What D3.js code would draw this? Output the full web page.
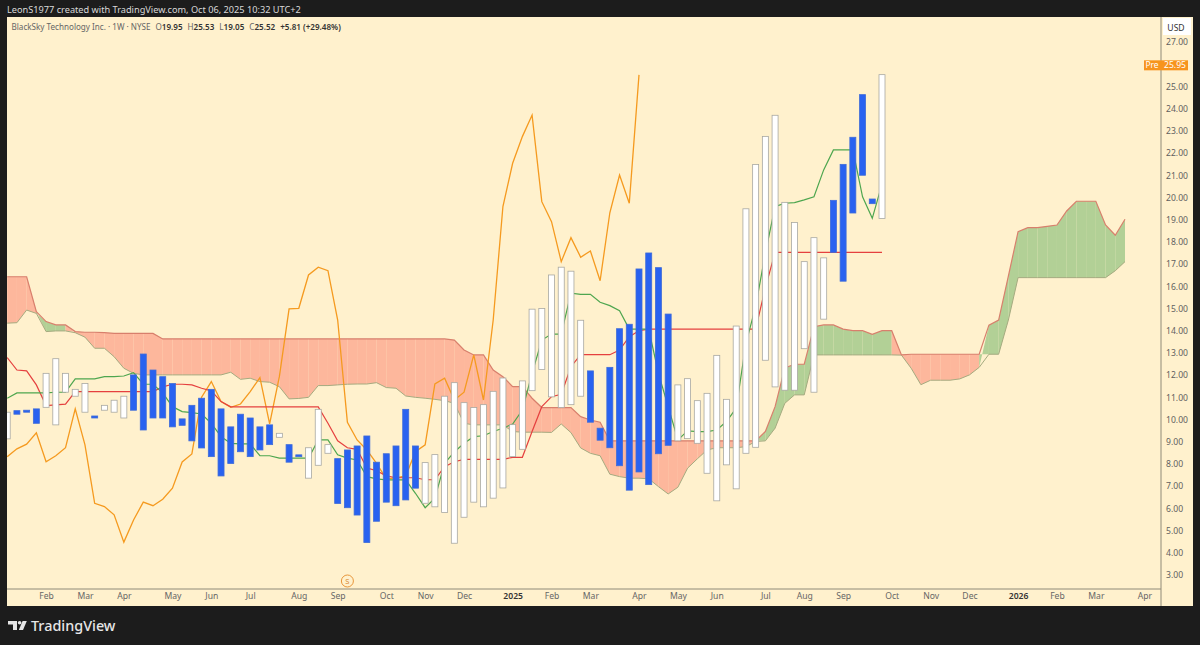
<!DOCTYPE html>
<html>
<head>
<meta charset="utf-8">
<script src="https://cdnjs.cloudflare.com/ajax/libs/d3/7.9.0/d3.min.js"></script>
<style>
  html, body { margin: 0; padding: 0; background: #1c1c1c; overflow: hidden; }
  text { font-family: "Noto Sans", sans-serif; }
</style>
</head>
<body>
<svg id="chart" width="1200" height="645"></svg>
<script>
// weekly bars, low/high only (the chart shows no wicks)
const barHigh = [10.33,10.40,10.42,10.48,12.08,12.74,12.08,11.36,11.62,10.16,10.64,10.87,11.05,12.01,12.95,12.23,11.93,11.62,10.03,10.64,10.96,11.36,10.48,9.67,10.24,10.07,9.67,9.76,9.38,8.87,8.41,8.73,10.46,8.87,8.24,8.63,8.81,9.26,8.08,8.46,8.81,10.46,8.81,8.06,8.42,11.05,11.66,10.76,10.54,10.67,11.27,11.87,9.77,11.74,14.97,15.00,16.51,16.86,16.68,14.47,12.19,9.61,12.35,14.09,14.29,16.78,17.50,16.84,14.75,11.56,11.84,10.85,11.18,12.89,10.91,14.21,19.49,21.48,22.75,23.70,19.78,18.87,17.11,18.19,17.28,19.87,21.49,22.71,24.63,19.93,25.53];
const barLow = [9.13,10.24,10.33,9.83,10.55,9.76,11.23,11.05,10.33,10.07,10.42,10.33,10.07,10.42,9.53,10.07,10.07,9.67,9.74,9.04,8.72,8.33,7.46,8.02,8.55,8.33,8.63,8.87,9.20,8.08,8.33,7.36,7.94,8.48,6.22,6.03,5.70,4.46,5.42,6.28,6.12,6.38,6.91,6.23,6.07,5.81,4.43,5.60,6.28,6.07,6.46,6.92,8.33,8.66,11.30,12.25,11.02,10.54,10.67,11.05,9.88,9.07,8.73,7.92,6.82,7.64,7.07,8.46,8.84,9.04,9.14,8.93,7.58,6.34,7.96,6.88,8.48,8.75,12.67,11.47,11.32,11.32,13.19,11.23,14.52,17.53,16.23,19.30,21.00,19.72,19.05];
// 0 = blue (down), 1 = white (up)
const barUp = [1,0,0,0,1,1,1,1,1,0,1,1,1,0,0,0,0,0,0,0,0,0,0,0,0,0,0,0,1,0,0,1,1,1,0,0,0,0,0,0,0,0,0,1,1,1,1,1,1,1,1,1,1,1,1,1,1,1,1,1,0,0,0,0,0,0,0,0,0,1,1,1,1,1,1,1,1,1,1,1,1,1,1,1,1,0,0,0,0,0,1];

const tenkan = [10.96,11.20,11.20,11.20,11.20,11.23,11.23,11.83,11.83,11.83,11.93,11.93,11.96,12.11,11.59,11.59,11.20,10.58,10.36,10.31,10.25,9.83,9.23,8.93,8.90,8.90,8.37,8.37,8.26,8.26,8.26,8.26,9.08,9.08,8.41,8.26,8.18,7.43,7.33,7.28,7.28,7.28,6.68,6.03,6.46,8.03,8.54,8.93,9.23,9.27,9.46,9.61,9.80,10.43,12.08,13.58,13.85,13.85,15.69,15.64,15.64,15.28,15.13,14.90,14.07,14.07,14.07,12.08,10.58,9.08,9.49,9.46,9.46,9.53,9.91,10.51,13.43,15.08,17.49,19.59,19.74,19.77,19.89,20.03,21.24,22.14,22.14,22.14,20.03,19.06,20.60];
const kijun = [12.79,12.23,12.19,11.56,10.63,10.66,10.69,11.26,11.26,11.26,11.26,11.26,11.26,11.26,11.26,11.26,11.47,11.59,11.59,11.56,11.41,11.29,10.81,10.57,10.57,10.57,10.57,10.57,10.57,10.57,10.57,10.57,10.57,9.83,9.04,8.73,8.66,7.82,7.70,7.46,7.38,7.38,7.38,7.29,7.29,7.88,8.10,8.21,8.21,8.21,8.21,8.21,8.30,8.30,9.46,10.58,11.03,11.14,12.38,12.92,12.92,12.92,12.92,13.13,13.73,14.00,14.07,14.07,14.07,14.07,14.07,14.07,14.07,14.07,14.07,14.07,14.07,14.07,15.93,17.53,17.53,17.53,17.53,17.53,17.53,17.53,17.53,17.53,17.53,17.53,17.53];
// lagging span, starts at the first bar and stops 25 bars before the last one
const chikou = [8.33,8.68,8.89,9.40,8.10,8.37,8.73,10.48,8.86,6.23,6.08,5.71,4.48,5.48,6.28,6.12,6.41,6.91,8.09,8.45,11.01,11.71,10.81,10.55,10.70,11.26,11.89,9.80,11.93,14.98,15.01,16.51,16.86,16.70,14.48,9.88,9.08,8.63,8.03,7.33,7.37,7.46,8.55,8.86,11.60,11.86,10.88,11.23,12.91,10.88,14.48,19.59,21.54,22.74,23.71,19.81,18.91,17.11,18.19,17.31,17.59,16.25,19.31,21.01,19.74,25.52];
// leading spans run 25 bars past the last bar
const spanA = [14.34,14.36,14.93,14.78,14.41,14.26,14.26,13.91,13.71,13.21,13.21,12.83,12.31,12.08,12.01,12.01,12.01,12.01,12.01,12.01,12.01,12.01,12.01,12.13,11.81,11.86,11.71,11.68,11.48,10.93,10.95,11.00,11.53,11.53,11.56,11.59,11.60,11.60,11.66,11.44,11.41,11.06,11.00,10.96,10.91,10.85,10.73,9.83,9.76,9.76,9.76,9.76,9.46,9.43,9.43,9.43,9.42,9.80,9.41,8.72,8.48,8.37,7.54,7.43,7.36,7.36,7.33,6.98,6.65,6.95,7.81,8.23,8.63,8.73,8.73,8.73,8.78,9.01,9.46,10.58,12.32,12.49,12.49,14.18,14.26,14.26,14.07,14.00,14.00,13.84,14.00,14.00,12.90,12.31,11.57,11.77,11.77,11.77,11.83,12.01,12.35,14.25,14.48,16.46,18.46,18.64,18.64,18.70,18.76,19.39,19.83,19.83,19.83,18.76,18.30,19.02];
const spanB = [16.43,16.43,16.43,14.86,13.96,13.99,13.99,13.96,13.93,13.93,13.91,13.88,13.88,13.88,13.88,13.88,13.63,13.63,13.63,13.63,13.63,13.63,13.63,13.63,13.63,13.63,13.63,13.63,13.63,13.63,13.63,13.63,13.63,13.63,13.63,13.63,13.63,13.63,13.63,13.63,13.63,13.63,13.63,13.63,13.63,13.63,13.58,13.13,12.91,12.91,12.23,11.93,11.48,11.48,10.96,10.54,10.54,10.54,10.54,10.13,9.98,9.88,9.04,9.04,9.04,9.04,9.04,9.04,9.04,9.04,9.04,9.04,9.04,9.04,9.04,9.04,9.04,9.04,9.04,9.61,10.73,11.11,11.11,12.91,12.91,12.91,12.91,12.91,12.91,12.91,12.91,12.91,12.91,12.94,12.94,12.94,12.94,12.94,12.94,12.94,12.94,12.94,12.94,14.48,16.39,16.39,16.39,16.39,16.39,16.39,16.39,16.39,16.39,16.39,16.70,17.11];

const priceTicks = [27,25,24,23,22,21,20,19,18,17,16,15,14,13,12,11,10,9,8,7,6,5,4,3];
const timeTickBars = [4,8,12,17,21,25,30,34,39,43,47,52,56,60,65,69,73,78,82,86,91,95,99,104,108,112,117];
const timeTickLabels = ["Feb","Mar","Apr","May","Jun","Jul","Aug","Sep","Oct","Nov","Dec","2025","Feb","Mar","Apr","May","Jun","Jul","Aug","Sep","Oct","Nov","Dec","2026","Feb","Mar","Apr"];

const prePrice = 25.95;
const splitBar = 35, splitPrice = 2.73;

const svg = d3.select("#chart");

const pane = { left: 7, right: 1161, top: 17, bottom: 589 };
const frame = { right: 1193, bottom: 606 };

const x = d3.scaleLinear().domain([0, 90]).range([7.2, 882]);
const y = d3.scaleLinear().domain([27, 3]).range([42, 575]);

const red = "#e5403f", green = "#4ea64f", orange = "#f59a1f";

// paper colour for pane and both axes
svg.append("rect").attr("x", pane.left).attr("y", pane.top)
  .attr("width", frame.right - pane.left).attr("height", frame.bottom - pane.top)
  .attr("fill", "#fff1cd");

svg.append("clipPath").attr("id", "pane-clip").append("rect")
  .attr("x", pane.left).attr("y", pane.top)
  .attr("width", pane.right - pane.left).attr("height", pane.bottom - pane.top);

const g = svg.append("g").attr("clip-path", "url(#pane-clip)");

// cloud: every segment takes the colour of its right hand bar
const cloudIdx = d3.range(spanA.length);
const segArea = d3.area()
  .x(i => x(i))
  .y0(i => y(spanA[i]))
  .y1(i => y(spanB[i]));

g.selectAll(".cloud")
  .data(cloudIdx.slice(1))
  .enter().append("path")
  .attr("class", "cloud")
  .attr("d", i => segArea([i - 1, i]))
  .attr("fill", i => spanA[i] > spanB[i] ? "#b2d096" : "#fdb79c")
  .attr("stroke", "none");

const edge = fn => d3.line().x(i => x(i)).y(i => y(fn(spanA[i], spanB[i])))(cloudIdx);
g.append("path").attr("d", edge(Math.min)).attr("fill", "none")
  .attr("stroke", "#a5ab80").attr("stroke-width", 1);
g.append("path").attr("d", edge(Math.max)).attr("fill", "none")
  .attr("stroke", "#d87f6c").attr("stroke-width", 1.2);

const seriesLine = d3.line().x((d, i) => x(i)).y(d => y(d));
g.append("path").attr("d", seriesLine(chikou)).attr("fill", "none").attr("stroke", orange).attr("stroke-width", 1.3);
g.append("path").attr("d", seriesLine(kijun)).attr("fill", "none").attr("stroke", red).attr("stroke-width", 1.2);
g.append("path").attr("d", seriesLine(tenkan)).attr("fill", "none").attr("stroke", green).attr("stroke-width", 1.2);

const barW = 6;
g.selectAll(".bar")
  .data(barHigh)
  .enter().append("rect")
  .attr("class", "bar")
  .attr("x", (d, i) => x(i) - barW / 2)
  .attr("y", d => y(d))
  .attr("width", barW)
  .attr("height", (d, i) => Math.max(1, y(barLow[i]) - y(d)))
  .attr("fill", (d, i) => barUp[i] ? "#ffffff" : "#2962f0")
  .attr("stroke", (d, i) => barUp[i] ? "#a8a8a2" : "#3f6cd8")
  .attr("stroke-width", 0.8);

// pane borders
svg.append("line").attr("x1", pane.right).attr("x2", pane.right)
  .attr("y1", pane.top).attr("y2", frame.bottom).attr("stroke", "#8f8a78").attr("stroke-width", 1);
svg.append("line").attr("x1", pane.left).attr("x2", pane.right)
  .attr("y1", pane.bottom).attr("y2", pane.bottom).attr("stroke", "#8f8a78").attr("stroke-width", 1);

// split marker
svg.append("circle").attr("cx", x(splitBar)).attr("cy", y(splitPrice)).attr("r", 6)
  .attr("fill", "none").attr("stroke", "#e8963a").attr("stroke-width", 1);
svg.append("text").attr("x", x(splitBar)).attr("y", y(splitPrice) + 2.8)
  .attr("text-anchor", "middle").attr("font-size", 7.5).attr("fill", "#d98a35").text("S");

// price axis
const yAxis = svg.append("g")
  .attr("transform", `translate(${pane.right},0)`)
  .call(d3.axisRight(y).tickValues(priceTicks).tickFormat(d3.format(".2f")).tickSize(0).tickPadding(5));
yAxis.select(".domain").remove();
yAxis.selectAll("text").attr("font-family", "Noto Sans, sans-serif").attr("font-size", 8.6).attr("fill", "#5f5f5f");

// time axis
const xAxis = svg.append("g")
  .attr("transform", `translate(0,${pane.bottom})`)
  .call(d3.axisBottom(x).tickValues(timeTickBars).tickFormat((d, i) => timeTickLabels[i]).tickSize(0).tickPadding(4));
xAxis.select(".domain").remove();
xAxis.selectAll("text")
  .attr("font-family", "Noto Sans, sans-serif")
  .attr("font-size", 8.6)
  .attr("fill", (d, i) => /^20/.test(timeTickLabels[i]) ? "#333" : "#666")
  .attr("font-weight", (d, i) => /^20/.test(timeTickLabels[i]) ? 600 : 400);

// USD box
svg.append("rect").attr("x", 1163).attr("y", 18).attr("width", 28).attr("height", 17).attr("fill", "#ffffff");
svg.append("text").attr("x", 1176).attr("y", 31).attr("text-anchor", "middle")
  .attr("font-size", 8.6).attr("fill", "#333").text("USD");

// pre market tag
const preY = y(prePrice);
svg.append("rect").attr("x", 1144).attr("y", preY - 5).attr("width", 44).attr("height", 10).attr("fill", "#f7941d");
svg.append("text").attr("x", 1152).attr("y", preY + 3).attr("text-anchor", "middle")
  .attr("font-size", 8.4).attr("fill", "#fff").text("Pre");
svg.append("text").attr("x", 1175).attr("y", preY + 3).attr("text-anchor", "middle")
  .attr("font-size", 8.6).attr("fill", "#fff").text("25.95");

// header line
svg.append("text").attr("x", 7).attr("y", 12.5).attr("font-size", 9.2).attr("fill", "#d8d8d8")
  .text("LeonS1977 created with TradingView.com, Oct 06, 2025 10:32 UTC+2");

// legend
const legend = svg.append("text").attr("x", 11.5).attr("y", 29.5).attr("font-size", 8.1).attr("fill", "#666");
legend.append("tspan").text("BlackSky Technology Inc. · 1W · NYSE");
[["O", "19.95"], ["H", "25.53"], ["L", "19.05"], ["C", "25.52"]].forEach(([k, v]) => {
  legend.append("tspan").attr("dx", 5).text(k);
  legend.append("tspan").attr("fill", "#333").attr("font-weight", 600).text(v);
});
legend.append("tspan").attr("dx", 5).attr("fill", "#333").attr("font-weight", 600).text("+5.81 (+29.48%)");

// watermark
const logo = svg.append("g").attr("fill", "#e6e6e6");
logo.append("path").attr("d", "M8 621h9v9h-4v-5.5h-5z");
logo.append("circle").attr("cx", 19.6).attr("cy", 622.8).attr("r", 1.8);
logo.append("path").attr("d", "M22.6 621h4.2l-3.8 9h-4.2z");
svg.append("text").attr("x", 31).attr("y", 631).attr("font-family", "Inter, sans-serif")
  .attr("font-size", 14.4).attr("font-weight", 500).attr("fill", "#e6e6e6").text("TradingView");
</script>
</body>
</html>
